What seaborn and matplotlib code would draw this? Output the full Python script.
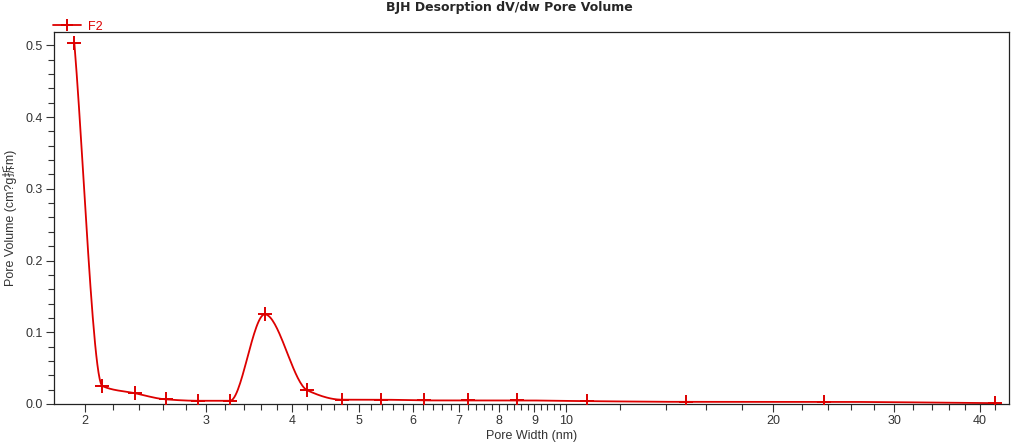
import numpy as np
import matplotlib
matplotlib.use("Agg")
import matplotlib.pyplot as plt
import seaborn as sns
from matplotlib.lines import Line2D
from matplotlib.ticker import FixedLocator, NullFormatter

# values
pore_width = [1.93, 2.12, 2.365, 2.62, 2.92, 3.25, 3.65, 4.21, 4.73, 5.39,
              6.22, 7.21, 8.49, 10.73, 14.95, 23.7, 42.0]
pore_volume = [0.503, 0.025, 0.015, 0.0065, 0.0045, 0.0045, 0.125, 0.019, 0.006, 0.006,
               0.005, 0.005, 0.005, 0.004, 0.003, 0.003, 0.0012]
series_name = "F2"
x_major = [2, 3, 4, 5, 6, 7, 8, 9, 10, 20, 30, 40]
y_major = [0.0, 0.1, 0.2, 0.3, 0.4, 0.5]

red = "#dd0000"


def pchip(x, y, xq):
    # monotone cubic through the read points (the original software smooths its curve)
    x = np.asarray(x, float); y = np.asarray(y, float)
    h = np.diff(x); d = np.diff(y) / h
    n = len(x); m = np.zeros(n)
    for k in range(1, n - 1):
        if d[k - 1] * d[k] > 0:
            w1 = 2 * h[k] + h[k - 1]; w2 = h[k] + 2 * h[k - 1]
            m[k] = (w1 + w2) / (w1 / d[k - 1] + w2 / d[k])
    m[0] = d[0]; m[-1] = d[-1]
    idx = np.clip(np.searchsorted(x, xq) - 1, 0, n - 2)
    t = (xq - x[idx]) / h[idx]
    h00 = 2 * t**3 - 3 * t**2 + 1; h10 = t**3 - 2 * t**2 + t
    h01 = -2 * t**3 + 3 * t**2; h11 = t**3 - t**2
    return h00 * y[idx] + h10 * h[idx] * m[idx] + h01 * y[idx + 1] + h11 * h[idx] * m[idx + 1]


sns.set_style("ticks")
plt.rcParams['font.family'] = ['Liberation Sans', 'Noto Sans CJK SC', 'DejaVu Sans']

fig = plt.figure(figsize=(10.24, 4.47), dpi=100)
ax = fig.add_axes([54 / 1024, 1 - 404 / 447, (1009 - 54) / 1024, (404 - 32) / 447])

lx = np.log10(pore_width)
lq = np.linspace(lx[0], lx[-1], 800)
sns.lineplot(x=10**lq, y=pchip(lx, pore_volume, lq), ax=ax, color=red, linewidth=1.3, sort=False)
sns.scatterplot(x=pore_width, y=pore_volume, ax=ax, marker="+", s=90, color=red, linewidth=1.4, zorder=3)

ax.set_xscale("log")
ax.set_xlim(1.803, 44.05)
ax.set_ylim(0, 0.5186)
ax.xaxis.set_major_locator(FixedLocator(x_major))
ax.set_xticklabels([str(v) for v in x_major])
minors = [v for v in np.arange(1.8, 10.0, 0.2) if min(abs(v - mv) for mv in x_major) > 1e-6]
minors += [v for v in range(12, 44, 2) if v not in x_major]
ax.xaxis.set_minor_locator(FixedLocator(minors))
ax.xaxis.set_minor_formatter(NullFormatter())
ax.yaxis.set_major_locator(FixedLocator(y_major))
ax.set_yticklabels([f"{v:.1f}" for v in y_major])
ax.yaxis.set_minor_locator(FixedLocator(np.arange(0, 0.52, 0.02)))

ax.tick_params(axis="both", which="major", length=6, width=0.8, color="#333333",
               labelsize=9, labelcolor="#333333", pad=2)
ax.tick_params(axis="both", which="minor", length=4, width=0.8, color="#333333")
for s in ax.spines.values():
    s.set_linewidth(0.9)
    s.set_color("#222222")

ax.set_xlabel("Pore Width (nm)", fontsize=9, color="#333333", labelpad=2)
ax.set_ylabel("Pore Volume (cm?g拆m)", fontsize=9, color="#333333", labelpad=6)

fig.text(0.497, 1 - 1 / 447, "BJH Desorption dV/dw Pore Volume", ha="center", va="top",
         fontsize=9, fontweight="bold", family="DejaVu Sans")

handle = Line2D([], [], color=red, marker="+", markersize=9, markeredgewidth=1.4, linewidth=1.3)
ax.legend([handle], [series_name], loc="lower left", bbox_to_anchor=(-0.002, 0.995),
          frameon=False, fontsize=9, labelcolor=red, handlelength=2.2, handletextpad=0.6,
          borderpad=0.1, borderaxespad=0.0)

fig.savefig("out.png", dpi=100)
